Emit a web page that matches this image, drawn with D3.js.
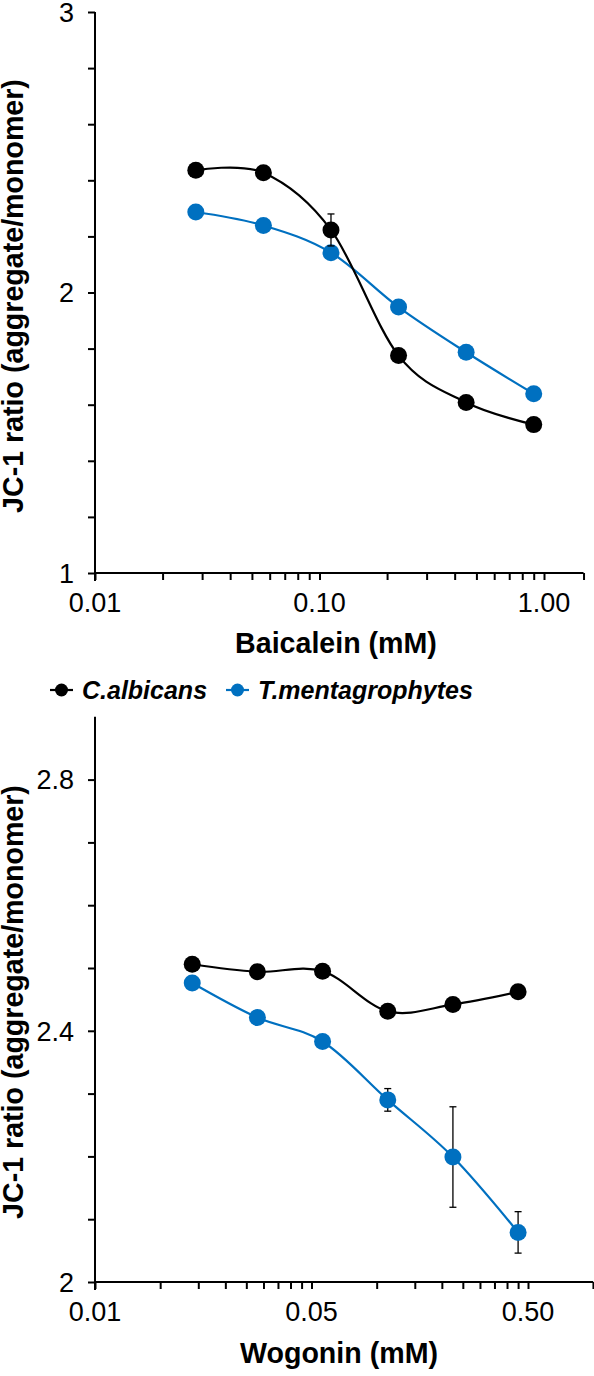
<!DOCTYPE html>
<html><head><meta charset="utf-8">
<script src="https://cdn.jsdelivr.net/npm/d3@7"></script>
<style>
html,body{margin:0;padding:0;background:#fff;}
svg{display:block;font-family:"Liberation Sans",Arial,sans-serif;}
</style></head>
<body>
<svg id="chart" width="594" height="1376"></svg>
<script>
// ---- data ----
const seriesNames = ["C.albicans", "T.mentagrophytes"];
const seriesColors = ["#000000", "#0070C0"];

const baicaleinConc = [0.028125, 0.05625, 0.1125, 0.225, 0.45, 0.9];
const baicaleinAlbicans = [2.436, 2.427, 2.223, 1.775, 1.608, 1.529];
const baicaleinAlbicansErr = [0, 0, 0.057, 0, 0, 0];
const baicaleinMenta = [2.287, 2.239, 2.142, 1.948, 1.787, 1.639];
const baicaleinMentaErr = [0, 0, 0, 0, 0, 0];

const wogoninConc = [0.028125, 0.05625, 0.1125, 0.225, 0.45, 0.9];
const wogoninAlbicans = [2.506, 2.494, 2.495, 2.431, 2.442, 2.462];
const wogoninAlbicansErr = [0, 0, 0, 0, 0, 0];
const wogoninMenta = [2.476, 2.421, 2.383, 2.290, 2.199, 2.079];
const wogoninMentaErr = [0, 0, 0, 0.018, 0.08, 0.033];

const baicaleinXTickValues = [0.01, 0.1, 1];
const baicaleinXTickLabels = ["0.01", "0.10", "1.00"];
const wogoninXTickValues = [0.01, 0.1, 1];
const wogoninXTickLabels = ["0.01", "0.05", "0.50"];

const baicaleinYTicks = [1, 1.2, 1.4, 1.6, 1.8, 2, 2.2, 2.4, 2.6, 2.8, 3];
const baicaleinYLabels = ["1", "2", "3"];
const wogoninYTicks = [2, 2.1, 2.2, 2.3, 2.4, 2.5, 2.6, 2.7, 2.8];
const wogoninYLabels = ["2", "2.4", "2.8"];

const yTitle = "JC-1 ratio (aggregate/monomer)";

// ---- drawing ----
const svg = d3.select("#chart");
const TICK = 7, FS = 27, TFS = 28.6;

function panel(cfg) {
  const g = svg.append("g");
  const x = d3.scaleLog().domain(cfg.xDomain).range(cfg.xRange);
  const y = d3.scaleLinear().domain(cfg.yDomain).range(cfg.yRange);
  const x0 = cfg.xRange[0], y0 = cfg.yRange[0];

  // minor log ticks
  const minor = [];
  for (let d = 0.01; d <= cfg.xDomain[1]; d *= 10) {
    for (let k = 1; k <= 9; k++) {
      const v = +(d * k).toPrecision(6);
      if (v <= cfg.xDomain[1] + 1e-9) minor.push(v);
    }
  }
  minor.push(cfg.xDomain[1]);

  const xAxis = d3.axisBottom(x).tickValues(minor).tickSize(TICK).tickSizeOuter(0).tickFormat(() => "");
  const xg = g.append("g").attr("transform", `translate(0,${y0})`).call(xAxis);
  xg.select(".domain").attr("stroke-width", 2).attr("d", `M${x0 - 1},0H${cfg.xRange[1]}`);
  xg.selectAll(".tick line").attr("stroke-width", 2);

  // x labels
  g.selectAll(".xl").data(cfg.xTickValues).join("text")
    .attr("x", d => x(d)).attr("y", y0 + 39)
    .attr("text-anchor", "middle").attr("font-size", FS).attr("fill", "#000")
    .text((d, i) => cfg.xTickLabels[i]);

  const yAxis = d3.axisLeft(y).tickValues(cfg.yTicks).tickSize(TICK).tickSizeOuter(0).tickFormat(() => "");
  const yg = g.append("g").attr("transform", `translate(${x0},0)`).call(yAxis);
  yg.select(".domain").attr("stroke-width", 2).attr("d", `M0,${y0 + 8}V${cfg.yRange[1]}`);
  yg.selectAll(".tick line").attr("stroke-width", 2);

  g.selectAll(".yl").data(cfg.yLabels).join("text")
    .attr("x", x0 - 21).attr("y", d => y(+d)).attr("dy", "0.36em")
    .attr("text-anchor", "end").attr("font-size", FS).attr("fill", "#000")
    .text(d => d);

  // titles
  g.append("text").attr("x", cfg.xTitleX).attr("y", cfg.xTitleY)
    .attr("text-anchor", "middle").attr("font-size", TFS).attr("font-weight", "bold")
    .text(cfg.xTitle);
  g.append("text").attr("transform", `translate(23,${cfg.yTitleY}) rotate(-90)`)
    .attr("text-anchor", "middle").attr("font-size", TFS).attr("font-weight", "bold")
    .text(yTitle);

  const line = d3.line().x(d => x(d.c)).y(d => y(d.v)).curve(d3.curveCatmullRom.alpha(0));
  // draw blue first then black
  [1, 0].forEach(si => {
    const s = cfg.series[si];
    const pts = cfg.conc.map((c, i) => ({c, v: s.values[i], e: s.err[i]}));
    const sg = g.append("g");
    sg.append("path").datum(pts).attr("d", line).attr("fill", "none")
      .attr("stroke", seriesColors[si]).attr("stroke-width", 2.2);
    const eb = sg.selectAll(".eb").data(pts.filter(p => p.e > 0)).join("g");
    eb.append("line").attr("x1", p => x(p.c)).attr("x2", p => x(p.c))
      .attr("y1", p => y(p.v - p.e)).attr("y2", p => y(p.v + p.e))
      .attr("stroke", "#000").attr("stroke-width", 1.3);
    [-1, 1].forEach(sgn => {
      eb.append("line").attr("x1", p => x(p.c) - 3.5).attr("x2", p => x(p.c) + 3.5)
        .attr("y1", p => y(p.v + sgn * p.e)).attr("y2", p => y(p.v + sgn * p.e))
        .attr("stroke", "#000").attr("stroke-width", 1.3);
    });
    sg.selectAll("circle").data(pts).join("circle")
      .attr("cx", p => x(p.c)).attr("cy", p => y(p.v)).attr("r", 8.5)
      .attr("fill", seriesColors[si]);
  });
}

panel({
  xDomain: [0.01, 1.5], xRange: [95, 95 + 224.5 * Math.log10(150)],
  yDomain: [1, 3], yRange: [573, 12],
  xTickValues: baicaleinXTickValues, xTickLabels: baicaleinXTickLabels,
  yTicks: baicaleinYTicks, yLabels: baicaleinYLabels,
  xTitle: "Baicalein (mM)", xTitleX: 336, xTitleY: 653, yTitleY: 296,
  conc: baicaleinConc,
  series: [{values: baicaleinAlbicans, err: baicaleinAlbicansErr},
           {values: baicaleinMenta, err: baicaleinMentaErr}]
});

panel({
  xDomain: [0.01, 2], xRange: [95, 95 + 216.5 * Math.log10(200)],
  yDomain: [2, 2.9], yRange: [1282, 1282 - 0.9 * 628],
  xTickValues: wogoninXTickValues, xTickLabels: wogoninXTickLabels,
  yTicks: wogoninYTicks, yLabels: wogoninYLabels,
  xTitle: "Wogonin (mM)", xTitleX: 339, xTitleY: 1363, yTitleY: 1002,
  conc: wogoninConc,
  series: [{values: wogoninAlbicans, err: wogoninAlbicansErr},
           {values: wogoninMenta, err: wogoninMentaErr}]
});

// legend
const leg = svg.append("g");
const legItems = [{x: 50, tx: 82}, {x: 226, tx: 258}];
legItems.forEach((it, i) => {
  leg.append("line").attr("x1", it.x).attr("x2", it.x + 23).attr("y1", 690).attr("y2", 690)
    .attr("stroke", seriesColors[i]).attr("stroke-width", 2.2);
  leg.append("circle").attr("cx", it.x + 11.5).attr("cy", 690).attr("r", 6.5).attr("fill", seriesColors[i]);
  leg.append("text").attr("x", it.tx).attr("y", 699).attr("font-size", 25)
    .attr("font-weight", "bold").attr("font-style", "italic").text(seriesNames[i]);
});
</script>
</body></html>
